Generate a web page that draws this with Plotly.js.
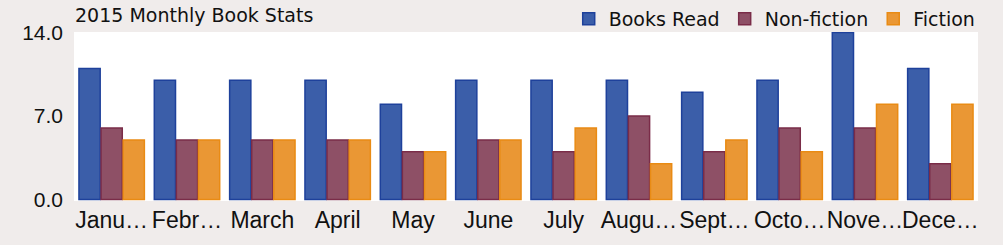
<!DOCTYPE html>
<html><head><meta charset="utf-8">
<script src="https://cdn.plot.ly/plotly-3.0.1.min.js"></script>
<style>html,body{margin:0;padding:0;background:#f0eceb;}#chart{width:1003px;height:245px;}</style>
</head><body><div id="chart"></div>
<script>
const months = ["January","February","March","April","May","June","July","August","September","October","November","December"];
const tickLabels = ["Janu…","Febr…","March","April","May","June","July","Augu…","Sept…","Octo…","Nove…","Dece…"];
const booksRead = [11,10,10,10,8,10,10,10,9,10,14,11];
const nonFiction = [6,5,5,5,4,5,4,7,4,6,6,3];
const fiction = [5,5,5,5,4,5,6,3,5,4,8,8];
const yTicks = [0,7,14];

function tr(name, y, fill, line){
  return {type:'bar', name:name, x:months, y:y,
    marker:{color:fill, line:{color:line, width:1.5}}, hoverinfo:'none'};
}
const data = [
  tr('Books Read', booksRead, '#3b5ea9', '#1e419b'),
  tr('Non-fiction', nonFiction, '#8e5066', '#7a2c48'),
  tr('Fiction', fiction, '#ea9734', '#e98b14')
];
const layout = {
  width:1003, height:245,
  paper_bgcolor:'#f0eceb', plot_bgcolor:'#ffffff',
  margin:{l:74, r:25, t:32, b:44, pad:0, autoexpand:false},
  barmode:'group', bargap:0.12, bargroupgap:0.04,
  font:{family:'Liberation Sans, Arial, sans-serif', color:'#111', size:20},
  title:{text:'2015 Monthly Book Stats', xanchor:'left', xref:'container', x:75/1003, y:1-15/245, yref:'container', yanchor:'middle',
    font:{family:'DejaVu Sans, sans-serif', size:19, color:'#111'}},
  showlegend:true,
  legend:{orientation:'h', x:1.003, xanchor:'right', xref:'paper', y:1, yref:'container', yanchor:'top',
    font:{family:'DejaVu Sans, sans-serif', size:19, color:'#111'},
    bgcolor:'rgba(0,0,0,0)', itemwidth:30, tracegroupgap:0},
  xaxis:{type:'category', tickvals:months, ticktext:tickLabels, showgrid:false, zeroline:false,
    showline:false, ticks:'', tickangle:0, tickfont:{size:23}, ticklabelstandoff:3, automargin:false},
  yaxis:{range:[-0.12,14.05], tickvals:yTicks, ticktext:yTicks.map(v=>v.toFixed(1)),
    showgrid:false, zeroline:false, showline:false, ticks:'', ticklabelstandoff:10,
    tickfont:{size:21}, automargin:false}
};
Plotly.newPlot('chart', data, layout, {displayModeBar:false, staticPlot:true});
</script></body></html>
